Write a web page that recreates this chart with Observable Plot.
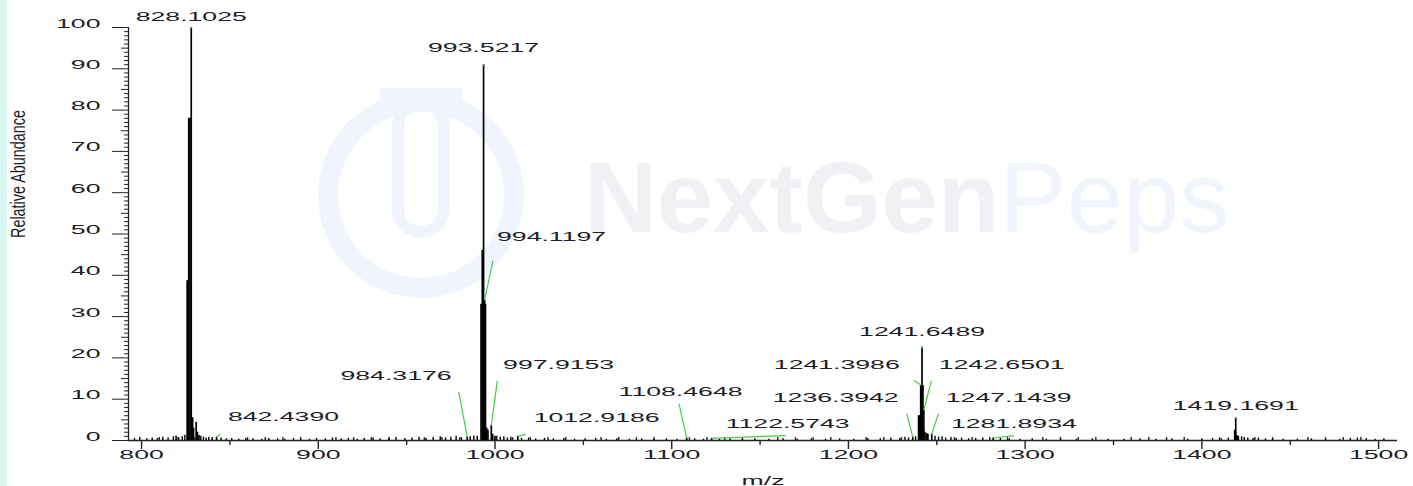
<!DOCTYPE html>
<html>
<head>
<meta charset="utf-8">
<script src="https://cdn.jsdelivr.net/npm/d3@7"></script>
<script src="https://cdn.jsdelivr.net/npm/@observablehq/plot@0.6"></script>
<style>
  html, body { margin: 0; padding: 0; }
  body { width: 1413px; height: 486px; overflow: hidden;
         background: linear-gradient(to right, #d7f6ef 0 7px, #ffffff 7px); }
  #chart svg { display: block; }
</style>
</head>
<body>
<div id="chart"></div>
<script>
// ---- data ----
const xDomain = [792.6, 1510.7];
const yDomain = [0, 100];
const xMajorTicks = [800, 900, 1000, 1100, 1200, 1300, 1400, 1500];
const xMidTicks = [850, 950, 1050, 1150, 1250, 1350, 1450];
const xMinorTicks = d3.range(800, 1510, 10).filter(v => v % 50 !== 0);
const yMajorTicks = [0, 10, 20, 30, 40, 50, 60, 70, 80, 90, 100];
const yMidTicks = d3.range(5, 100, 10);
const yMinorTicks = d3.range(0, 101, 1).filter(v => v % 5 !== 0);

// main spectral sticks
const peakMz = [825.8, 826.7, 827.4, 828.1025, 828.9, 829.4, 830.9, 831.6, 832.5, 842.4390,
  984.3176, 992.1, 992.8, 993.5217, 994.1197, 994.6, 995.3, 996.0, 997.9153, 998.7, 1000.0,
  1012.9186, 1108.4648, 1122.5743,
  1236.3942, 1239.7, 1240.3, 1240.9, 1241.3986, 1241.6489, 1242.15, 1242.6501, 1243.3, 1244.3, 1245.0, 1247.1439,
  1281.8934, 1418.6, 1419.1691, 1419.8, 1420.6];
const peakAbundance = [38.7, 78, 78, 100, 5.5, 3, 4.4, 2, 1.2, 0.8,
  0.8, 33, 46, 91, 34, 33, 3, 2.5, 3.6, 1.5, 1,
  1.0, 0.6, 0.5,
  0.8, 6, 6, 13.3, 13.3, 22.6, 13.3, 7.3, 2, 1.7, 1.5, 1.5,
  0.6, 2.5, 5.5, 1.2, 1];

// baseline noise sticks
const noiseMz = [796, 799, 803, 806, 809, 812, 815, 818, 819.5, 821, 823, 824.5, 833.5, 835, 836.5, 838, 840,
  845, 848, 851, 855, 859, 863, 868, 872, 877, 881, 886, 890, 895, 899, 904, 908, 913, 917, 922, 926, 931,
  935, 940, 944, 949, 953, 957, 961, 965, 969, 972, 975, 978, 981, 986, 988, 990, 1001, 1003, 1005, 1007,
  1009, 1015, 1019, 1023, 1028, 1033, 1039, 1045, 1051, 1057, 1063, 1069, 1076, 1083, 1090, 1097, 1103,
  1113, 1118, 1127, 1133, 1140, 1147, 1155, 1163, 1171, 1179, 1187, 1195, 1203, 1211, 1218, 1224, 1229,
  1232, 1234, 1238, 1249, 1251, 1253, 1255, 1258, 1261, 1264, 1268, 1272, 1276, 1286, 1291, 1297, 1304,
  1312, 1320, 1329, 1338, 1347, 1356, 1365, 1374, 1383, 1392, 1400, 1406, 1411, 1415, 1422.5, 1424, 1426,
  1429, 1432, 1436, 1440, 1446, 1454, 1462, 1470, 1478, 1484, 1488, 1493, 1498, 1503];
const noiseAbundance = [0.5, 0.7, 0.4, 0.6, 0.5, 0.8, 0.6, 0.9, 1.1, 0.7, 0.9, 1.3, 1.0, 0.8, 0.6, 0.7, 0.5,
  0.6, 0.4, 0.5, 0.3, 0.5, 0.4, 0.3, 0.5, 0.4, 0.3, 0.5, 0.4, 0.3, 0.5, 0.4, 0.6, 0.4, 0.5, 0.3, 0.5, 0.6,
  0.4, 0.5, 0.7, 0.5, 0.6, 0.8, 0.5, 0.7, 0.9, 0.6, 0.8, 1.0, 0.7, 0.9, 1.1, 1.0, 1.0, 0.8, 0.9, 0.6,
  0.8, 0.5, 0.6, 0.4, 0.5, 0.4, 0.5, 0.3, 0.4, 0.5, 0.3, 0.4, 0.3, 0.4, 0.3, 0.4, 0.3,
  0.4, 0.3, 0.3, 0.4, 0.3, 0.4, 0.3, 0.4, 0.3, 0.4, 0.3, 0.4, 0.3, 0.5, 0.4, 0.6, 0.5,
  0.8, 0.6, 0.9, 1.0, 0.8, 0.9, 0.6, 0.7, 0.5, 0.6, 0.4, 0.5, 0.6, 0.5, 0.4, 0.3, 0.4,
  0.3, 0.4, 0.3, 0.4, 0.3, 0.3, 0.4, 0.3, 0.4, 0.3, 0.4, 0.5, 0.4, 0.6, 0.9, 0.7, 0.6,
  0.5, 0.6, 0.4, 0.3, 0.3, 0.3, 0.4, 0.3, 0.3, 0.5, 0.6, 0.4, 0.3, 0.4];

// annotated peaks: m/z, peak top, label centre (m/z, abundance), leader end (or null)
const labelMz = [828.1025, 993.5217, 994.1197, 984.3176, 997.9153, 842.4390, 1012.9186, 1108.4648,
  1122.5743, 1236.3942, 1241.3986, 1241.6489, 1242.6501, 1247.1439, 1281.8934, 1419.1691];
const labelPeakTop = [100, 91, 34, 0.8, 3.6, 0.8, 1.0, 0.6, 0.5, 0.8, 13.3, 22.6, 7.3, 1.5, 0.6, 5.5];
const labelCenterMz = [828.1025, 993.5217, 1032.0, 944.0, 1036.0, 880.3, 1057.5, 1105.0,
  1165.6, 1192.8, 1193.4, 1241.6489, 1286.7, 1290.7, 1293.6, 1419.1691];
const labelCenterAb = [101.6, 94.0, 48.4, 14.7, 17.2, 4.8, 4.4, 10.7, 3.1, 9.4, 17.4, 25.2, 17.4, 9.4, 3.0, 7.5];
const leaderEndMz = [null, null, 998.8, 979.5, 1001.3, 844.7, 1017.3, 1104.1, 1164.5, 1233.0, 1237.1, null, 1246.9, 1250.9, 1293.7, null];
const leaderEndAb = [null, null, 43.5, 11.7, 14.5, 1.6, 1.5, 8.9, 1.2, 6.5, 14.5, null, 14.5, 6.5, 1.2, null];

// ---- tables ----
const peaks = peakMz.map((mz, i) => ({mz, ab: peakAbundance[i]}));
const noise = noiseMz.map((mz, i) => ({mz, ab: noiseAbundance[i]}));
const labels = labelMz.map((mz, i) => ({
  mz, top: labelPeakTop[i], text: mz.toFixed(4),
  cx: labelCenterMz[i], cy: labelCenterAb[i], ex: leaderEndMz[i], ey: leaderEndAb[i]
}));
const leaders = labels.filter(d => d.ex != null);
const tops = labels.filter(d => d.ex == null);

const green = "#46cc46";
const ink = "#1c1c24";
const plain = d3.format("d");

const chart = Plot.plot({
  width: 1413,
  height: 486,
  marginLeft: 128,
  marginRight: 16,
  marginTop: 27,
  marginBottom: 46,
  x: {domain: xDomain},
  y: {domain: yDomain},
  style: {background: "transparent", fontFamily: "'Liberation Sans', Arial, sans-serif", fontSize: "13px", color: ink},
  marks: [
    // y axis
    Plot.axisY({ticks: yMajorTicks, tickSize: 16, tickPadding: 12, tickFormat: plain, label: null, anchor: "left", stroke: "#222"}),
    Plot.axisY({ticks: yMidTicks, tickSize: 7, tickFormat: () => "", label: null, anchor: "left", stroke: "#222"}),
    Plot.axisY({ticks: yMinorTicks, tickSize: 4, tickFormat: () => "", label: null, anchor: "left", stroke: "#222"}),
    Plot.ruleX([xDomain[0]], {y1: yDomain[0], y2: yDomain[1], stroke: "#222", strokeWidth: 1.3}),
    // x axis
    Plot.axisX({ticks: xMajorTicks, tickSize: 9, tickPadding: 9, tickFormat: plain, label: null, anchor: "bottom", stroke: "#222", strokeWidth: 1.4}),
    Plot.axisX({ticks: xMidTicks, tickSize: 5, tickFormat: () => "", label: null, anchor: "bottom", stroke: "#222", strokeWidth: 1.4}),
    Plot.ruleX(xMinorTicks, {y1: 0, y2: 0.7, stroke: "#222", strokeWidth: 1.4}),
    Plot.ruleY([0], {stroke: "#222", strokeWidth: 1.3}),
    // spectrum
    Plot.ruleX(noise, {x: "mz", y1: 0, y2: "ab", stroke: "#000", strokeWidth: 1.4}),
    Plot.ruleX(peaks, {x: "mz", y1: 0, y2: "ab", stroke: "#000", strokeWidth: 1.7}),
    // annotations
    Plot.link(leaders, {x1: "mz", y1: "top", x2: "ex", y2: "ey", stroke: green, strokeWidth: 1.2}),
    Plot.dot(tops, {x: "mz", y: "top", r: 1, fill: green, stroke: null}),
    Plot.text(labels, {x: "cx", y: "cy", text: "text", fill: ink, fontSize: 13}),
    // axis titles
    Plot.text(["m/z"], {frameAnchor: "bottom", dy: 44, fill: ink, fontSize: 13}),
    Plot.text(["Relative Abundance"], {frameAnchor: "left", dx: -104, dy: 4, rotate: -90, fill: ink, fontSize: 14.4})
  ]
});

// horizontally stretched lettering, as in the reference
chart.querySelectorAll("text").forEach(t => {
  const x = +t.getAttribute("x") || 0;
  const y = +t.getAttribute("y") || 0;
  const tr = t.getAttribute("transform") || "";
  const rotated = /rotate/.test(tr);
  t.removeAttribute("x");
  t.removeAttribute("y");
  t.setAttribute("transform", `${tr} translate(${x},${y}) ${rotated ? "scale(1,1.45)" : "scale(2.05,1)"}`);
});

// faint watermark behind everything
const wm = d3.select(chart).insert("g", ":first-child").attr("pointer-events", "none");
wm.append("circle").attr("cx", 421).attr("cy", 195).attr("r", 93)
  .attr("fill", "none").attr("stroke", "#f0f4fc").attr("stroke-width", 20);
wm.append("rect").attr("x", 380).attr("y", 88).attr("width", 82).attr("height", 14).attr("fill", "#f0f4fc");
wm.append("rect").attr("x", 398).attr("y", 104).attr("width", 46).attr("height", 128).attr("rx", 23).attr("fill", "none")
  .attr("stroke", "#f0f4fc").attr("stroke-width", 12);
const wt = wm.append("text").attr("x", 584).attr("y", 232).attr("text-anchor", "start")
  .attr("font-family", "'Liberation Sans', Arial, sans-serif").attr("font-size", 101);
wt.append("tspan").attr("font-weight", "bold").attr("fill", "#f0f1f5").text("NextGen");
wt.append("tspan").attr("fill", "#f0f4fc").text("Peps");

document.getElementById("chart").append(chart);
</script>
</body>
</html>
